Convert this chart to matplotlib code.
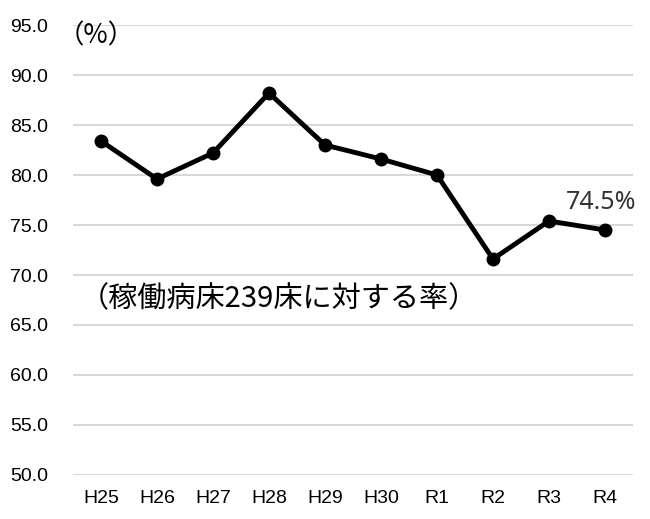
import matplotlib
matplotlib.use("Agg")
import matplotlib.pyplot as plt

years = ["H25", "H26", "H27", "H28", "H29", "H30", "R1", "R2", "R3", "R4"]
rates = [83.4, 79.6, 82.2, 88.2, 83.0, 81.6, 80.0, 71.6, 75.4, 74.5]
yticks = [50, 55, 60, 65, 70, 75, 80, 85, 90, 95]

tick_font = ["Liberation Sans", "DejaVu Sans"]
jp_font = ["Noto Sans CJK JP", "DejaVu Sans"]

fig = plt.figure(figsize=(6.5, 5.19), dpi=100)
ax = fig.add_axes([0.1123, 0.0848, 0.8615, 0.867])

x = list(range(len(years)))
ax.plot(x, rates, color="black", linewidth=3.5, marker="o", markersize=9,
        solid_joinstyle="round", zorder=3)

ax.set_xlim(-0.5, len(years) - 0.5)
ax.set_ylim(50, 95)
ax.set_yticks(yticks)
ax.set_yticklabels([f"{v:.1f}" for v in yticks], family=tick_font, fontsize=14)
ax.set_xticks(x)
ax.set_xticklabels(years, family=tick_font, fontsize=14)
ax.tick_params(length=0, pad=11)
ax.tick_params(axis="y", pad=18)

ax.grid(axis="y", color="#d9d9d9", linewidth=1.5)
ax.set_axisbelow(True)
for s in ax.spines.values():
    s.set_visible(False)

ax.text(-0.78, 93.9, "（%）", family=jp_font, fontsize=19, ha="left", va="center")
ax.text(-0.38, 67.6, "（稼働病床239床に対する率）", family=jp_font, fontsize=21,
        ha="left", va="center")
ax.annotate(f"{rates[-1]}%", (x[-1], rates[-1]), xytext=(-3, 19.5),
            textcoords="offset points", ha="center", va="center",
            family=["Noto Sans", "DejaVu Sans"], fontsize=18, color="#333333")

fig.savefig("out.png", dpi=100)
